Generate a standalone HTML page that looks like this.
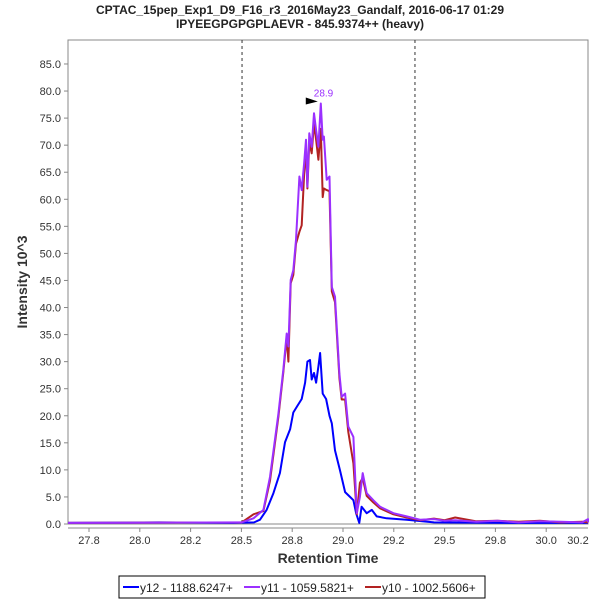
<!DOCTYPE html>
<html><head><meta charset="utf-8"><style>
body{margin:0;background:#fff;font-family:"Liberation Sans",sans-serif}
</style></head><body>
<svg id="c" width="600" height="600" xmlns="http://www.w3.org/2000/svg" font-family="Liberation Sans, sans-serif">
<rect width="600" height="600" fill="#fff"/>
<text x="300" y="14" text-anchor="middle" font-size="12" font-weight="bold" fill="#222">CPTAC_15pep_Exp1_D9_F16_r3_2016May23_Gandalf, 2016-06-17 01:29</text>
<text x="300" y="28" text-anchor="middle" font-size="12" font-weight="bold" fill="#222">IPYEEGPGPGPLAEVR - 845.9374++ (heavy)</text>
<rect x="68" y="40" width="520" height="484" fill="#fff" stroke="#888"/>
<g id="axes"></g>
<g id="series"></g>
<text transform="translate(27,282) rotate(-90)" text-anchor="middle" font-size="14" font-weight="bold" fill="#333">Intensity 10^3</text>
<text x="328" y="563" text-anchor="middle" font-size="14" font-weight="bold" fill="#333">Retention Time</text>
<g>
<rect x="119" y="576" width="366" height="22" fill="#fff" stroke="#000"/>
<g><line x1="123" y1="587" x2="139" y2="587" stroke="#0000ff" stroke-width="2"/><text x="140" y="592" font-size="12" fill="#222">y12 - 1188.6247+</text></g>
<g><line x1="244" y1="587" x2="260" y2="587" stroke="#9b30ff" stroke-width="2"/><text x="261" y="592" font-size="12" fill="#222">y11 - 1059.5821+</text></g>
<g><line x1="365" y1="587" x2="381" y2="587" stroke="#b22222" stroke-width="2"/><text x="382" y="592" font-size="12" fill="#222">y10 - 1002.5606+</text></g>
</g>
</svg>
<script>
const xTickVals=[27.77,28.01,28.25,28.49,28.73,28.97,29.21,29.45,29.69,29.93,30.17];
const xTickLabels=["27.8","28.0","28.2","28.5","28.8","29.0","29.2","29.5","29.8","30.0","30.2"];
const yTicks=[0,5,10,15,20,25,30,35,40,45,50,55,60,65,70,75,80,85];
const boundaries=[28.493,29.310];
const peakTime=28.865, peakValue=77.7, peakLabel="28.9";
const tY11=[27.6,28.49,28.499,28.547,28.594,28.625,28.665,28.688,28.704,28.712,28.723,28.735,28.748,28.764,28.775,28.786,28.795,28.802,28.811,28.822,28.833,28.843,28.854,28.865,28.874,28.880,28.893,28.906,28.917,28.932,28.953,28.964,28.980,28.995,29.019,29.035,29.050,29.063,29.082,29.113,29.145,29.208,29.271,29.334,29.4,29.45,29.5,29.6,29.7,29.8,29.9,30.0,30.1,30.15,30.2,30.3];
const vY11=[0.2,0.3,0.4,1.05,2.6,8.7,20.4,28.5,35.2,32.8,45.1,46.9,52.5,64.2,61.7,66.6,71.0,62.3,72.2,69.7,75.9,72.8,69.7,77.7,71.0,71.6,63.6,64.2,43.8,42.0,27.8,23.5,24.1,18.0,16.1,2.0,5.0,9.4,5.7,4.4,3.2,2.0,1.4,0.8,0.9,0.6,0.7,0.4,0.6,0.3,0.5,0.4,0.3,0.9,0.3,0.3];
const tY10=[27.6,28.49,28.499,28.547,28.594,28.625,28.665,28.688,28.704,28.712,28.723,28.735,28.748,28.764,28.775,28.786,28.795,28.802,28.811,28.822,28.833,28.843,28.854,28.865,28.874,28.880,28.893,28.906,28.917,28.932,28.953,28.964,28.980,28.995,29.019,29.035,29.050,29.063,29.082,29.113,29.145,29.208,29.271,29.334,29.4,29.45,29.5,29.6,29.7,29.8,29.9,30.0,30.1,30.2,30.3];
const vY10=[0.2,0.3,0.5,1.8,2.4,8.0,19.8,28.0,34.5,30.0,44.5,46.0,51.8,54.0,55.2,64.5,69.5,62.0,70.5,68.5,74.0,71.0,67.3,73.0,60.4,62.0,61.7,61.5,43.0,41.0,27.0,23.0,23.0,17.0,11.2,1.8,7.6,8.5,5.2,4.0,2.9,1.8,1.2,0.7,1.0,0.7,1.2,0.5,0.6,0.4,0.6,0.3,0.4,0.3,0.3];
const tY12=[27.6,28.1,28.45,28.55,28.578,28.609,28.641,28.672,28.696,28.720,28.735,28.754,28.775,28.791,28.802,28.814,28.822,28.833,28.843,28.854,28.862,28.874,28.890,28.906,28.917,28.932,28.956,28.980,29.003,29.019,29.032,29.047,29.058,29.082,29.106,29.129,29.176,29.271,29.4,29.8,30.3];
const vY12=[0.2,0.3,0.2,0.3,0.8,2.6,5.7,9.4,15.1,17.5,20.6,21.8,23.1,26.1,30.0,30.3,26.7,27.9,26.1,29.1,31.6,24.1,23.1,20.0,18.6,13.6,9.9,5.9,5.0,4.4,2.0,0.2,3.2,2.0,2.6,1.4,1.05,0.8,0.3,0.2,0.2];
const NS="http://www.w3.org/2000/svg";
const X0=68,X1=588,Y0=40,Y1=524;
function xs(t){return 89+(t-27.77)/0.24*50.8;}
function ys(v){return 524-v/5*27.06;}
const axes=document.getElementById('axes'), series=document.getElementById('series');
function mk(tag,attrs,parent){const e=document.createElementNS(NS,tag);for(const k in attrs)e.setAttribute(k,attrs[k]);parent.appendChild(e);return e;}
yTicks.forEach(v=>{const y=ys(v);
 const l=mk('line',{x1:64,x2:68,y1:y,y2:y,stroke:'#888'},axes);
 
 
 const t=mk('text',{x:61,y:y+4,'text-anchor':'end','font-size':11,fill:'#333'},axes);t.textContent=v.toFixed(1);
 
 });
mk('line',{x1:68,x2:588,y1:528,y2:528,stroke:'#888'},axes);
xTickVals.forEach((v,i)=>{const x=xs(v);
 if(x<=X1){const l=mk('line',{x1:x,x2:x,y1:528,y2:532,stroke:'#888'},axes);
 
 }
 const t=mk('text',{x:Math.min(x,578),y:544,'text-anchor':'middle','font-size':11,fill:'#333'},axes);t.textContent=xTickLabels[i];
 
 });
boundaries.forEach(b=>{const l=mk('line',{x1:xs(b),x2:xs(b),y1:Y0,y2:Y1,stroke:'#333','stroke-dasharray':'3,3'},series);
 
 });
function draw(ts,vs,color,name){const pts=ts.map((t,i)=>Math.max(X0,Math.min(X1,xs(t))).toFixed(1)+','+ys(vs[i]).toFixed(1)).join(' ');
 const p=mk('polyline',{points:pts,fill:'none',stroke:color,'stroke-width':2,'stroke-linejoin':'round'},series);
 
 }
draw(tY12,vY12,'#0000ff','series-y12');
draw(tY10,vY10,'#b22222','series-y10');
draw(tY11,vY11,'#9b30ff','series-y11');
const px=xs(peakTime),py=ys(peakValue);
const tri=mk('polygon',{points:(px-15)+','+(py-6)+' '+(px-3)+','+(py-2)+' '+(px-15)+','+(py+1),fill:'#000'},series);


const pl=mk('text',{x:px-7,y:py-7,'font-size':10,fill:'#9b30ff'},series);pl.textContent=peakLabel;


</script>
</body></html>
